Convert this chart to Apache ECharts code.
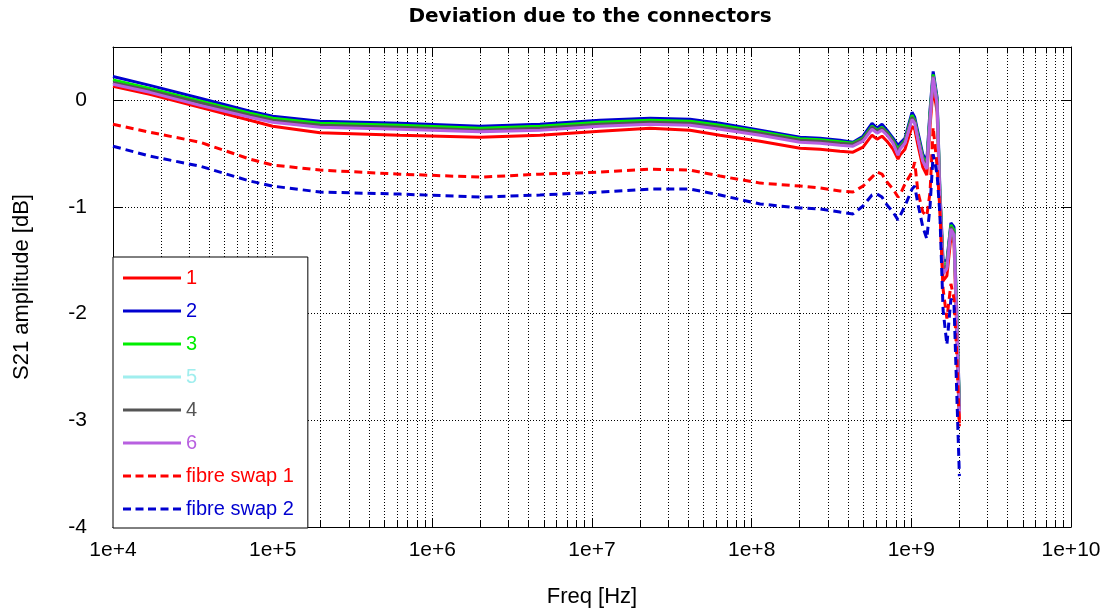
<!DOCTYPE html>
<html>
<head>
<meta charset="utf-8">
<script src="https://cdn.jsdelivr.net/npm/echarts@6/dist/echarts.min.js"></script>
<style>
html,body{margin:0;padding:0;background:#fff;}
#chart{width:1111px;height:613px;}
</style>
</head>
<body>
<div id="chart"></div>
<script>
// Frequencies [Hz]
const freqs = [1e4, 1.70e4, 3.51e4, 7.21e4, 1e5, 1.98e5, 6.26e5, 1.99e6, 4.72e6, 1.12e7, 2.31e7, 4.11e7, 6.34e7, 1.13e8, 2.01e8, 2.68e8, 3.57e8, 4.31e8, 4.98e8, 5.67e8, 6.10e8, 6.55e8, 7.04e8, 7.68e8, 8.25e8, 8.49e8, 9.12e8, 1.01e9, 1.05e9, 1.10e9, 1.18e9, 1.25e9, 1.31e9, 1.37e9, 1.45e9, 1.51e9, 1.58e9, 1.67e9, 1.77e9, 1.85e9, 1.93e9, 2.0e9];

// S21 amplitude [dB]
const s1 = [0.131, 0.056, -0.065, -0.187, -0.243, -0.304, -0.327, -0.346, -0.327, -0.290, -0.262, -0.280, -0.327, -0.383, -0.449, -0.458, -0.477, -0.486, -0.439, -0.327, -0.364, -0.336, -0.383, -0.458, -0.551, -0.514, -0.458, -0.243, -0.271, -0.421, -0.626, -0.701, -0.243, 0.121, -0.107, -1.000, -1.692, -1.645, -1.280, -1.336, -2.215, -3.028];
const s2 = [0.224, 0.140, 0.019, -0.103, -0.150, -0.196, -0.215, -0.243, -0.224, -0.187, -0.168, -0.178, -0.215, -0.280, -0.346, -0.355, -0.374, -0.393, -0.336, -0.215, -0.262, -0.224, -0.280, -0.355, -0.421, -0.402, -0.355, -0.112, -0.159, -0.299, -0.505, -0.570, -0.084, 0.271, 0.028, -0.832, -1.505, -1.505, -1.150, -1.187, -2.028, -2.841];
const s3 = [0.192, 0.112, -0.005, -0.121, -0.168, -0.215, -0.234, -0.262, -0.243, -0.206, -0.187, -0.196, -0.234, -0.294, -0.360, -0.369, -0.388, -0.402, -0.355, -0.243, -0.280, -0.252, -0.299, -0.374, -0.458, -0.430, -0.374, -0.140, -0.187, -0.327, -0.533, -0.598, -0.121, 0.243, 0.000, -0.869, -1.542, -1.533, -1.168, -1.215, -2.065, -2.879];
const s5 = [0.159, 0.084, -0.033, -0.150, -0.196, -0.243, -0.262, -0.290, -0.271, -0.234, -0.215, -0.224, -0.262, -0.318, -0.383, -0.393, -0.411, -0.421, -0.374, -0.262, -0.299, -0.271, -0.318, -0.393, -0.505, -0.449, -0.393, -0.168, -0.206, -0.355, -0.561, -0.636, -0.168, 0.224, -0.028, -0.907, -1.598, -1.561, -1.196, -1.252, -2.121, -2.925];
const s4 = [0.168, 0.093, -0.023, -0.140, -0.187, -0.234, -0.252, -0.280, -0.262, -0.224, -0.206, -0.215, -0.252, -0.308, -0.374, -0.383, -0.402, -0.411, -0.364, -0.252, -0.290, -0.262, -0.308, -0.383, -0.486, -0.439, -0.383, -0.159, -0.196, -0.346, -0.551, -0.617, -0.150, 0.224, -0.019, -0.897, -1.579, -1.551, -1.187, -1.243, -2.103, -2.907];
const s6 = [0.150, 0.075, -0.047, -0.159, -0.206, -0.252, -0.271, -0.294, -0.280, -0.243, -0.224, -0.234, -0.271, -0.327, -0.393, -0.402, -0.421, -0.430, -0.383, -0.271, -0.308, -0.280, -0.327, -0.402, -0.514, -0.458, -0.402, -0.178, -0.215, -0.364, -0.570, -0.645, -0.178, 0.215, -0.037, -0.925, -1.626, -1.579, -1.206, -1.262, -2.140, -2.935];
const fs1 = [-0.224, -0.299, -0.393, -0.551, -0.607, -0.654, -0.692, -0.720, -0.692, -0.673, -0.645, -0.654, -0.710, -0.776, -0.804, -0.822, -0.850, -0.860, -0.804, -0.720, -0.673, -0.692, -0.766, -0.832, -0.907, -0.888, -0.785, -0.673, -0.579, -0.860, -1.047, -1.084, -0.860, -0.252, -0.617, -1.028, -1.766, -2.047, -1.720, -1.860, -2.421, -3.056];
const fs2 = [-0.430, -0.523, -0.617, -0.757, -0.804, -0.860, -0.879, -0.907, -0.888, -0.860, -0.832, -0.832, -0.888, -0.972, -1.009, -1.019, -1.047, -1.065, -0.991, -0.888, -0.879, -0.907, -0.981, -1.047, -1.121, -1.084, -0.991, -0.832, -0.804, -0.972, -1.187, -1.299, -0.991, -0.505, -0.692, -1.075, -1.963, -2.290, -1.860, -1.907, -2.794, -3.523];

const seriesNames = ['1', '2', '3', '5', '4', '6', 'fibre swap 1', 'fibre swap 2'];
const seriesValues = [s1, s2, s3, s5, s4, s6, fs1, fs2];
const seriesColors = ['#ff0000', '#0000d0', '#00ee00', '#a0eeee', '#555555', '#b860e0', '#ff0000', '#0000d0'];
const seriesDashed = [false, false, false, false, false, false, true, true];

const yTicks = [-4, -3, -2, -1, 0];

const X_MIN = 1e4, X_MAX = 1e10, Y_MIN = -4, Y_MAX = 0.5;

// minor (2..9 x 10^k) grid positions of the log axis
const minorPos = [];
for (let k = 4; k < 10; k++) for (let m = 2; m <= 9; m++) minorPos.push(m * Math.pow(10, k));

const FONT = 'Liberation Sans';
const ICON_SOLID = 'path://M0,0H58V3H0Z';
const ICON_DASH = 'path://M0,0H8V3H0Z M12.5,0H20.5V3H12.5Z M25,0H33V3H25Z M37.5,0H45.5V3H37.5Z M50,0H58V3H50Z';

const chart = echarts.init(document.getElementById('chart'), null, {renderer: 'canvas'});

const dataSeries = seriesNames.map((name, i) => ({
  name: name,
  type: 'line',
  xAxisIndex: 0,
  yAxisIndex: 0,
  data: freqs.map((f, j) => [f, seriesValues[i][j]]),
  showSymbol: false,
  symbol: 'none',
  smooth: false,
  z: 3 + i,
  color: seriesColors[i],
  itemStyle: {color: seriesColors[i]},
  lineStyle: {color: seriesColors[i], width: 3, type: seriesDashed[i] ? [8, 5] : 'solid'},
  animation: false
}));

const gridSeries = {
  name: '__grid',
  type: 'line',
  data: [],
  silent: true,
  z: 1,
  markLine: {
    silent: true,
    symbol: 'none',
    animation: false,
    z: 1,
    label: {show: false},
    lineStyle: {color: '#000', width: 1, type: [1, 2]},
    emphasis: {disabled: true},
    data: minorPos.map(v => ({xAxis: v}))
  }
};

const tickSeries = {
  name: '__ticks',
  type: 'line',
  data: [],
  silent: true,
  z: 2,
  markLine: {
    silent: true,
    symbol: 'none',
    animation: false,
    z: 2,
    label: {show: false},
    lineStyle: {color: '#000', width: 1, type: 'solid'},
    emphasis: {disabled: true},
    data: minorPos.flatMap(v => [
      [{coord: [v, Y_MIN]}, {coord: [v, Y_MIN + 0.06]}],
      [{coord: [v, Y_MAX]}, {coord: [v, Y_MAX - 0.06]}]
    ])
  }
};

const option = {
  backgroundColor: '#fff',
  animation: false,
  title: {
    text: 'Deviation due to the connectors',
    left: 590,
    textAlign: 'center',
    top: 7,
    padding: 0,
    textStyle: {fontFamily: 'DejaVu Sans', fontWeight: 'bold', fontSize: 20, color: '#000'}
  },
  grid: {left: 113, right: 40, top: 47, bottom: 85, containLabel: false},
  legend: {
    orient: 'vertical',
    left: 113,
    top: 257,
    padding: [11, 14, 9, 10],
    itemWidth: 58,
    itemHeight: 3,
    itemGap: 13,
    backgroundColor: '#fff',
    borderColor: '#000',
    borderWidth: 1,
    z: 20,
    selectedMode: false,
    textStyle: {fontFamily: FONT, fontSize: 20},
    data: seriesNames.map((n, i) => ({
      name: n,
      icon: seriesDashed[i] ? ICON_DASH : ICON_SOLID,
      itemStyle: {color: seriesColors[i]},
      textStyle: {color: seriesColors[i]}
    }))
  },
  xAxis: [{
    type: 'log',
    logBase: 10,
    min: X_MIN,
    max: X_MAX,
    interval: 1,
    position: 'bottom',
    axisLine: {show: true, onZero: false, lineStyle: {color: '#000', width: 1}},
    axisTick: {show: true, inside: true, length: 9, lineStyle: {color: '#000'}},
    axisLabel: {
      color: '#000', fontFamily: FONT, fontSize: 21, margin: 13,
      formatter: v => '1e+' + Math.round(Math.log10(v))
    },
    splitLine: {show: true, lineStyle: {color: '#000', width: 1, type: [1, 2]}},
    name: 'Freq [Hz]',
    nameLocation: 'middle',
    nameGap: 59,
    nameTextStyle: {color: '#000', fontFamily: FONT, fontSize: 22}
  }, {
    type: 'log',
    logBase: 10,
    min: X_MIN,
    max: X_MAX,
    interval: 1,
    position: 'top',
    axisLine: {show: true, onZero: false, lineStyle: {color: '#000', width: 1}},
    axisTick: {show: true, inside: true, length: 9, lineStyle: {color: '#000'}},
    axisLabel: {show: false},
    splitLine: {show: false}
  }],
  yAxis: [{
    type: 'value',
    min: Y_MIN,
    max: Y_MAX,
    interval: 1,
    position: 'left',
    axisLine: {show: true, onZero: false, lineStyle: {color: '#000', width: 1}},
    axisTick: {show: true, inside: true, length: 10, lineStyle: {color: '#000'}},
    axisLabel: {
      color: '#000', fontFamily: FONT, fontSize: 21, margin: 26,
      formatter: v => (yTicks.indexOf(v) >= 0 ? String(v) : '')
    },
    splitLine: {show: true, lineStyle: {color: '#000', width: 1, type: [1, 2]}},
    name: 'S21 amplitude [dB]',
    nameLocation: 'middle',
    nameGap: 80,
    nameTextStyle: {color: '#000', fontFamily: FONT, fontSize: 22}
  }, {
    type: 'value',
    min: Y_MIN,
    max: Y_MAX,
    interval: 1,
    position: 'right',
    axisLine: {show: true, onZero: false, lineStyle: {color: '#000', width: 1}},
    axisTick: {show: true, inside: true, length: 10, lineStyle: {color: '#000'}},
    axisLabel: {show: false},
    splitLine: {show: false}
  }],
  series: [gridSeries, tickSeries].concat(dataSeries)
};

chart.setOption(option);
</script>
</body>
</html>
